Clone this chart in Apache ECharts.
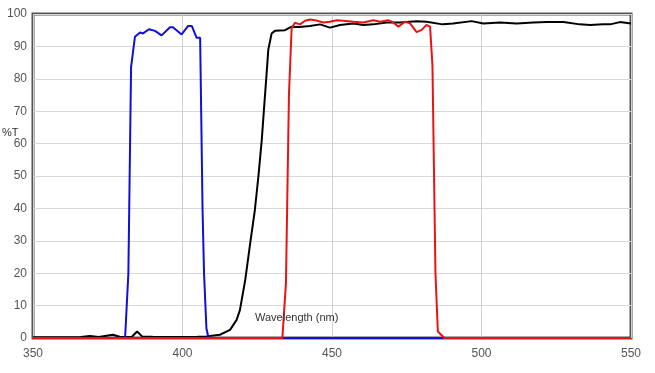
<!DOCTYPE html>
<html>
<head>
<meta charset="utf-8">
<script src="https://cdn.jsdelivr.net/npm/echarts@6/dist/echarts.min.js"></script>
<style>html,body{margin:0;padding:0;background:#fff}#c{width:655px;height:373px}</style>
</head>
<body>
<div id="c"></div>
<script>
// Wavelength (nm) / %T pairs
const blackNm = [350,360,366,369,372,376.7,379,383,384.8,386.5,390,395,400,405,408,412.5,415.9,418.1,419.2,421,422.6,424.2,425.4,426.5,427.2,428,428.7,429.8,430.9,434.3,436.5,439,442.6,446,449.3,452.7,457.1,460.5,463.8,468.3,472.7,478.3,481.6,487,490.5,496.7,500.6,506.2,511.8,517.3,521.8,527.4,532.9,536.3,540.7,543,546.3,550];
const blackT  = [0.2,0.2,0.3,0.6,0.3,1.0,0.4,0.3,2.0,0.5,0.4,0.3,0.3,0.4,0.5,1.0,2.5,5.6,8.6,18,29,39.5,50,61,70,80,89,94,94.8,95,96.1,96,96.3,96.8,95.8,96.6,97.1,96.6,96.8,97.4,97.4,97.8,97.6,96.8,97.1,97.8,97.1,97.4,97.1,97.4,97.5,97.5,96.8,96.6,96.8,96.8,97.5,97.1];

const blueNm = [350,380.8,381.9,382.8,384.1,385.8,386.8,388.8,390.8,393,395.8,396.8,399.7,401.9,403.1,404.7,405.9,406.7,407.2,408,408.7,550];
const blueT  = [0,0,20,83.6,93,94.3,94,95.3,94.8,93.4,95.9,95.9,93.7,96.3,96.3,92.7,92.7,40,20,3,0,0];

const redNm = [350,433.4,434.6,435.6,436.5,437.6,439.3,441,442.6,444.3,447.1,449.3,451.6,453.8,457.1,460.5,463.8,466.1,468.8,470.5,472.2,474.4,476.1,478.3,480,481.6,482.8,483.6,484.6,485.4,487.6,550];
const redT  = [0,0,17,75,95.6,97.3,96.8,97.9,98.3,98.1,97.4,97.6,98.1,97.9,97.6,97.4,98.1,97.6,98.1,97.4,96.1,97.6,97.1,94.4,95.1,96.6,96.1,84,20,2,0,0];

const xTicks = [350,400,450,500,550];
const yTicks = [0,10,20,30,40,50,60,70,80,90,100];

const pairs = (a,b) => a.map((v,i)=>[v,b[i]]);
const chart = echarts.init(document.getElementById('c'), null, {renderer:'canvas'});
const lineSeries = (name, nm, t, color) => ({
  name, type:'line', data: pairs(nm,t), showSymbol:false, smooth:false,
  lineStyle:{color, width:2}, itemStyle:{color}, animation:false
});
chart.setOption({
  animation:false,
  grid:{left:33,right:24,top:14,bottom:35,show:true,borderColor:'#555',borderWidth:3,backgroundColor:'#fff'},
  xAxis:{type:'value',min:xTicks[0],max:xTicks[xTicks.length-1],interval:50,
    axisLine:{show:false},axisTick:{show:false},
    axisLabel:{color:'#555',fontSize:12,fontFamily:'Liberation Sans, Arial',margin:10},
    splitLine:{show:true,lineStyle:{color:'#d0d0d0',width:1}}},
  yAxis:{type:'value',min:yTicks[0],max:yTicks[yTicks.length-1],interval:10,
    axisLine:{show:false},axisTick:{show:false},
    axisLabel:{color:'#555',fontSize:12,fontFamily:'Liberation Sans, Arial',margin:6},
    splitLine:{show:true,lineStyle:{color:'#d8d8d8',width:1}}},
  graphic:[
    {type:'text',left:2,top:127,style:{text:'%T',fill:'#333',font:'11px Liberation Sans, Arial'}},
    {type:'text',left:255,top:312,z:5,style:{text:'Wavelength (nm)',fill:'#333',font:'11px Liberation Sans, Arial'}}
  ],
  series:[
    lineSeries('Black', blackNm, blackT, '#000000'),
    lineSeries('Blue', blueNm, blueT, '#1010d8'),
    lineSeries('Red', redNm, redT, '#e81414')
  ]
});
</script>
</body>
</html>
